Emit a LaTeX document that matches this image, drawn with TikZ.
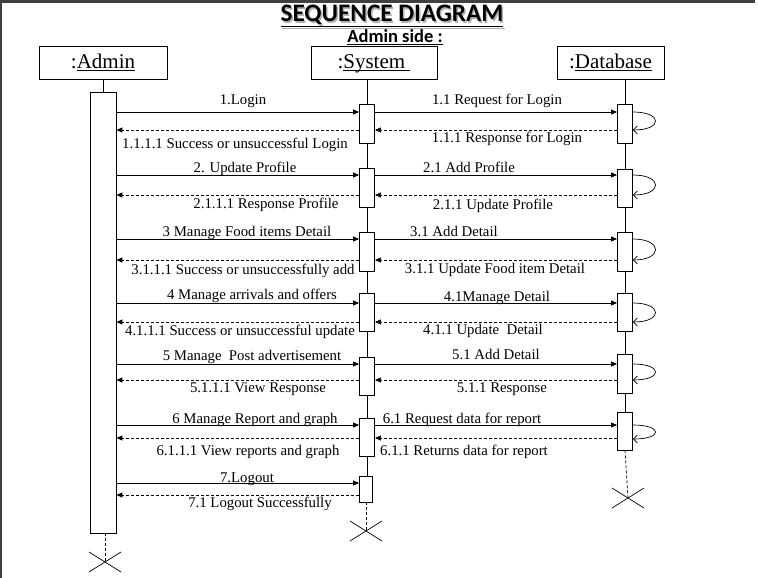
\documentclass[tikz,border=0pt]{standalone}
\usepackage{fontspec}
\setmainfont{Liberation Serif}
\newfontfamily\headfont{Carlito}
\usetikzlibrary{arrows.meta}

\newcommand{\objname}[1]{\underline{\smash{#1}}}

\tikzset{
	actbox/.style={draw, fill=white, line width=0.9pt, minimum width=15pt, inner sep=0pt},
	headbox/.style={draw, line width=0.9pt, minimum width=126pt, minimum height=33pt, inner sep=0pt, text height=14pt, text depth=2pt, font=\fontsize{21}{24}\selectfont},
	msg/.style={line width=0.7pt, -{Triangle[length=6pt,width=5pt]}},
	reply/.style={msg, dash pattern=on 3pt off 2pt},
	lifeline/.style={line width=0.7pt},
	lbl/.style={anchor=base, inner sep=0pt, font=\fontsize{14.8}{17}\selectfont},
	selfloop/.style={line width=0.7pt, -{Straight Barb[length=4pt,width=8pt]}},
}

\begin{document}
\begin{tikzpicture}[x=1pt,y=-1pt]
	\useasboundingbox (0,0) rectangle (758,578);
	% Screen frame
	\fill[black!75] (0,0) rectangle (755,3);
	\fill[black!75] (0,0) rectangle (2,578);

	% Headings
	\node[anchor=base, inner sep=0pt, text=black!30] at (393.5,23.5) {\headfont\bfseries\fontsize{25.2}{30}\selectfont\underline{SEQUENCE DIAGRAM}};
	\node[anchor=base, inner sep=0pt] (title) at (392,22) {\headfont\bfseries\fontsize{25.2}{30}\selectfont\underline{SEQUENCE DIAGRAM}};
	\node[anchor=base, inner sep=0pt] (side) at (395,43) {\headfont\bfseries\fontsize{18.5}{21}\selectfont\underline{Admin side :}};

	% Objects
	\node[headbox, minimum width=128pt] (admin) at (103,62.5) {:\objname{Admin}};
	\node[headbox] (system) at (374,62.5) {:\objname{System\ }};
	\node[headbox, minimum width=107pt] (database) at (610.5,62.5) {:\objname{Database}};

	% End points of the lifelines
	\coordinate (admx) at (105,562);
	\coordinate (sysx) at (366,531);
	\coordinate (dbx) at (628,498);

	% Lifelines
	\draw[lifeline] (103,79) -- (103,92);
	\draw[lifeline] (367,79) -- (367,476);
	\draw[lifeline] (625,79) -- (625,412);

	% Activation boxes
	\node[actbox, minimum width=26pt, minimum height=441pt] (admbar) at (103,312.5) {};
	\foreach \n/\t/\b in {1/104/143, 2/168/207, 3/232/271, 4/293/331, 5/357/395, 6/418/456}
		\node[actbox, minimum height={(\b-\t)*1pt}] (sys\n) at (367,{(\t+\b)/2}) {};
	\node[actbox, minimum width=13pt, minimum height=26pt] (sys7) at (366,489) {};
	\foreach \n/\t/\b in {1/104/143, 2/169/207, 3/232/271, 4/293/331, 5/354/393, 6/412/450}
		\node[actbox, minimum height={(\b-\t)*1pt}] (db\n) at (625,{(\t+\b)/2}) {};

	% Destroyed lifelines
	\draw[lifeline, dash pattern=on 3pt off 2pt] (admbar.south -| admx) -- (admx);
	\draw[lifeline, dash pattern=on 3pt off 2pt] (sys7.south -| sysx) -- (sysx);
	\draw[lifeline, dash pattern=on 3pt off 2pt] (db6.south) -- (dbx);
	\foreach \c in {admx, sysx, dbx}
		\draw[line width=0.7pt] (\c) ++(-16,-10) -- ++(32,20) (\c) ++(-16,10) -- ++(32,-20);

	% Login
	\draw[msg] (admbar.east |- 0,112) -- (sys1.west |- 0,112);
	\draw[msg] (sys1.east |- 0,112) -- (db1.west |- 0,112);
	\draw[selfloop] (db1.east |- 0,112) .. controls +(30,0) and +(30,0) .. (db1.east |- 0,130);
	\draw[reply] (db1.west |- 0,130) -- (sys1.east |- 0,130);
	\draw[reply] (sys1.west |- 0,130) -- (admbar.east |- 0,130);
	\node[lbl] (l1) at (243,104) {1.Login};
	\node[lbl] (l11) at (497,104) {1.1 Request for Login};
	\node[lbl] (l111) at (507,142) {1.1.1 Response for Login};
	\node[lbl] (l1111) at (235,148) {1.1.1.1 Success or unsuccessful Login};

	% Profile
	\draw[msg] (admbar.east |- 0,175) -- (sys2.west |- 0,175);
	\draw[msg] (sys2.east |- 0,175) -- (db2.west |- 0,175);
	\draw[selfloop] (db2.east |- 0,175) .. controls +(30,0) and +(30,0) .. (db2.east |- 0,195);
	\draw[reply] (db2.west |- 0,195) -- (sys2.east |- 0,195);
	\draw[reply] (sys2.west |- 0,195) -- (admbar.east |- 0,195);
	\node[lbl] (l2) at (245,172) {2. Update Profile};
	\node[lbl] (l21) at (469,172) {2.1 Add Profile};
	\node[lbl] (l211) at (493,209) {2.1.1 Update Profile};
	\node[lbl] (l2111) at (266,208) {2.1.1.1 Response Profile};

	% Food items
	\draw[msg] (admbar.east |- 0,239) -- (sys3.west |- 0,239);
	\draw[msg] (sys3.east |- 0,239) -- (db3.west |- 0,239);
	\draw[selfloop] (db3.east |- 0,239) .. controls +(30,0) and +(30,0) .. (db3.east |- 0,260);
	\draw[reply] (db3.west |- 0,260) -- (sys3.east |- 0,260);
	\draw[reply] (sys3.west |- 0,260) -- (admbar.east |- 0,260);
	\node[lbl] (l3) at (247,236) {3 Manage Food items Detail};
	\node[lbl] (l31) at (454,236) {3.1 Add Detail};
	\node[lbl] (l311) at (495,273) {3.1.1 Update Food item Detail};
	\node[lbl] (l3111) at (243,274) {3.1.1.1 Success or unsuccessfully add};

	% Arrivals and offers
	\draw[msg] (admbar.east |- 0,303) -- (sys4.west |- 0,303);
	\draw[msg] (sys4.east |- 0,303) -- (db4.west |- 0,303);
	\draw[selfloop] (db4.east |- 0,303) .. controls +(30,0) and +(30,0) .. (db4.east |- 0,322);
	\draw[reply] (db4.west |- 0,322) -- (sys4.east |- 0,322);
	\draw[reply] (sys4.west |- 0,322) -- (admbar.east |- 0,322);
	\node[lbl] (l4) at (252,299) {4 Manage arrivals and offers};
	\node[lbl] (l41) at (497,301) {4.1Manage Detail};
	\node[lbl] (l411) at (483,334) {4.1.1 Update\ \ Detail};
	\node[lbl] (l4111) at (240,335) {4.1.1.1 Success or unsuccessful update};

	% Post advertisement
	\draw[msg] (admbar.east |- 0,364) -- (sys5.west |- 0,364);
	\draw[msg] (sys5.east |- 0,364) -- (db5.west |- 0,364);
	\draw[selfloop] (db5.east |- 0,364) .. controls +(30,0) and +(30,0) .. (db5.east |- 0,380);
	\draw[reply] (db5.west |- 0,380) -- (sys5.east |- 0,380);
	\draw[reply] (sys5.west |- 0,380) -- (admbar.east |- 0,380);
	\node[lbl] (l5) at (252,360) {5 Manage\ \ Post advertisement};
	\node[lbl] (l51) at (496,359) {5.1 Add Detail};
	\node[lbl] (l511) at (502,392) {5.1.1 Response};
	\node[lbl] (l5111) at (258,392) {5.1.1.1 View Response};

	% Report and graph
	\draw[msg] (admbar.east |- 0,425) -- (sys6.west |- 0,425);
	\draw[msg] (sys6.east |- 0,425) -- (db6.west |- 0,425);
	\draw[selfloop] (db6.east |- 0,425) .. controls +(30,0) and +(30,0) .. (db6.east |- 0,439);
	\draw[reply] (db6.west |- 0,438) -- (sys6.east |- 0,438);
	\draw[reply] (sys6.west |- 0,438) -- (admbar.east |- 0,438);
	\node[lbl] (l6) at (255,423) {6 Manage Report and graph};
	\node[lbl] (l61) at (462,423) {6.1 Request data for report};
	\node[lbl] (l611) at (464,455) {6.1.1 Returns data for report};
	\node[lbl] (l6111) at (248,455) {6.1.1.1 View reports and graph};

	% Logout
	\draw[msg] (admbar.east |- 0,483) -- (sys7.west |- 0,483);
	\draw[reply] (sys7.west |- 0,495) -- (admbar.east |- 0,495);
	\node[lbl] (l7) at (247,482) {7.Logout};
	\node[lbl] (l71) at (260,507) {7.1 Logout Successfully};
\end{tikzpicture}
\end{document}
